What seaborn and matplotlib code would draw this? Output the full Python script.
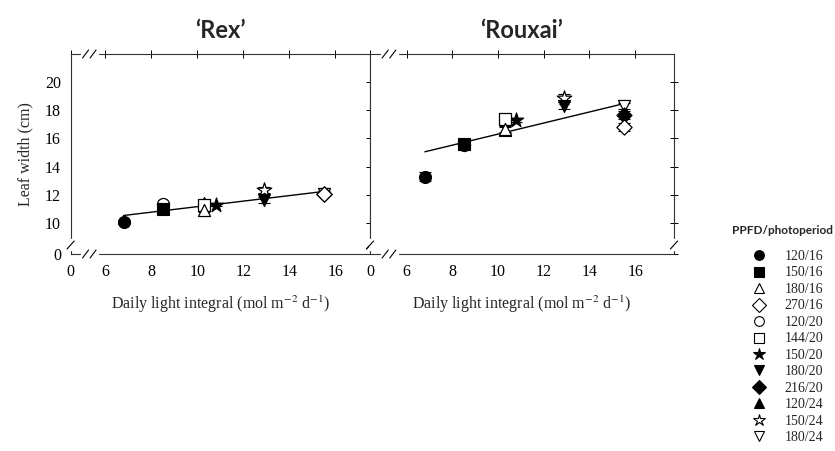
import numpy as np
import pandas as pd
import matplotlib
matplotlib.use("Agg")
import matplotlib.pyplot as plt
from matplotlib.lines import Line2D
import seaborn as sns

sns.set_style("white")
plt.rcParams['font.family'] = ['Liberation Serif', 'DejaVu Serif']
plt.rcParams['mathtext.fontset'] = 'stix'

# treatments (PPFD/photoperiod), legend order
treatments = ['120/16', '150/16', '180/16', '270/16', '120/20', '144/20',
              '150/20', '180/20', '216/20', '120/24', '150/24', '180/24']
markers = ['o', 's', '^', 'D', 'o', 's', '*', 'v', 'D', '^', '*', 'v']
filled = [True, True, False, False, False, False, True, True, True, True, False, False]

# daily light integral as placed on the chart
dli = [6.8, 8.5, 10.3, 15.5, 8.5, 10.3, 10.8, 12.9, 15.5, 10.3, 12.9, 15.5]

# leaf width (cm)
rex_width = [10.1, 11.0, 10.95, 12.1, 11.35, 11.3, 11.3, 11.65, 12.1, 11.45, 12.35, 12.05]
rex_err = [0.15, 0.1, 0.15, 0.15, 0.1, 0.1, 0.1, 0.2, 0.1, 0.1, 0.2, 0.1]
rouxai_width = [13.3, 15.6, 16.65, 16.8, 15.55, 17.35, 17.3, 18.3, 17.65, 16.6, 18.85, 18.3]
rouxai_err = [0.3, 0.3, 0.2, 0.25, 0.2, 0.2, 0.15, 0.25, 0.25, 0.2, 0.3, 0.2]

# regression lines
rex_fit_x = [6.8, 15.5]
rex_fit_y = [10.55, 12.25]
rouxai_fit_x = [6.8, 15.5]
rouxai_fit_y = [15.05, 18.45]

df = pd.DataFrame({'treatment': treatments, 'dli': dli,
                   'Rex': rex_width, 'Rex_err': rex_err,
                   'Rouxai': rouxai_width, 'Rouxai_err': rouxai_err})

fig = plt.figure(figsize=(8.35, 4.51), dpi=100)
W, H = 835, 451
ax1 = fig.add_axes([70.6 / W, (H - 254) / H, 299.4 / W, 200 / H])
ax2 = fig.add_axes([370 / W, (H - 254) / H, 304 / W, 200 / H])

ylim = (7.83, 21.96)


def breaks(ax):
    kw = dict(transform=ax.transAxes, clip_on=False, zorder=10)
    # x-axis break on top and bottom spines
    for yy in (0, 1):
        ax.plot([0.038, 0.088], [yy, yy], color='white', lw=2.5, **kw)
        for xx in (0.05, 0.075):
            ax.plot([xx - 0.01, xx + 0.01], [yy - 0.02, yy + 0.02], color='black', lw=0.8, **kw)
    # y-axis break on both side spines
    for xx in (0, 1):
        ax.plot([xx, xx], [0.025, 0.07], color='white', lw=2.5, **kw)
        ax.plot([xx - 0.012, xx + 0.012], [0.025, 0.065], color='black', lw=0.8, **kw)


for ax, col, fx, fy, xlim in [(ax1, 'Rex', rex_fit_x, rex_fit_y, (4.5, 17.5)),
                              (ax2, 'Rouxai', rouxai_fit_x, rouxai_fit_y, (4.4, 17.7))]:
    sns.lineplot(x=fx, y=fy, color='black', lw=1, ax=ax)
    ax.errorbar(df['dli'], df[col], yerr=df[col + '_err'], fmt='none',
                ecolor='black', elinewidth=0.8, capsize=4, capthick=0.8, zorder=2)
    # reverse order so the first treatments end up on top
    for i in range(len(treatments) - 1, -1, -1):
        sub = df.iloc[[i]]
        size = 120 if markers[i] == '*' else 75
        if markers[i] == 'D':
            size = 60
        if filled[i]:
            sns.scatterplot(data=sub, x='dli', y=col, marker=markers[i], s=size,
                            facecolor='black', edgecolor='black', linewidth=0.8,
                            ax=ax, zorder=3)
        else:
            sns.scatterplot(data=sub, x='dli', y=col, marker=markers[i], s=size,
                            facecolor='white', edgecolor='black', linewidth=0.9,
                            ax=ax, zorder=3)
    ax.set_xlim(xlim)
    ax.set_ylim(ylim)
    ax.set_xticks([xlim[0], 6, 8, 10, 12, 14, 16])
    ax.set_xticklabels(['0', '6', '8', '10', '12', '14', '16'])
    ax.set_yticks([ylim[0], 10, 12, 14, 16, 18, 20])
    ax.set_yticklabels(['0', '10', '12', '14', '16', '18', '20'])
    ax.tick_params(direction='inout', length=6, width=0.7, top=True, right=True,
                   labelsize=11.5, colors='black', pad=4)
    for s in ax.spines.values():
        s.set_color('#333333')
        s.set_linewidth(0.8)
    ax.set_xlabel('Daily light integral (mol m$^{-2}$ d$^{-1}$)', fontsize=11.5, labelpad=10)
    ax.set_ylabel('')
    breaks(ax)

ax2.tick_params(labelleft=False)
ax1.set_ylabel('Leaf width (cm)', fontsize=11.5, labelpad=8)

fig.text(220 / W, 1 - 30 / H, '\u2018Rex\u2019', ha='center', va='center',
         fontsize=17, fontweight='bold', family='Lato')
fig.text(522 / W, 1 - 30 / H, '\u2018Rouxai\u2019', ha='center', va='center',
         fontsize=17, fontweight='bold', family='Lato')

# legend
handles = []
for i in range(len(treatments)):
    handles.append(Line2D([], [], linestyle='none', marker=markers[i],
                          markersize=9 if markers[i] == '*' else 7,
                          markerfacecolor='black' if filled[i] else 'white',
                          markeredgecolor='black', markeredgewidth=0.8))
fig.text(833 / W, 1 - 230 / H, 'PPFD/photoperiod', ha='right', va='center',
         fontsize=8.5, fontweight='bold', family='Lato')
fig.legend(handles, treatments, loc='upper left', bbox_to_anchor=(751 / W, 1 - 250 / H),
           frameon=False, fontsize=10, labelspacing=0.25, handletextpad=1.2,
           handlelength=1.2, borderpad=0, borderaxespad=0)

fig.savefig('out.png', dpi=100)
